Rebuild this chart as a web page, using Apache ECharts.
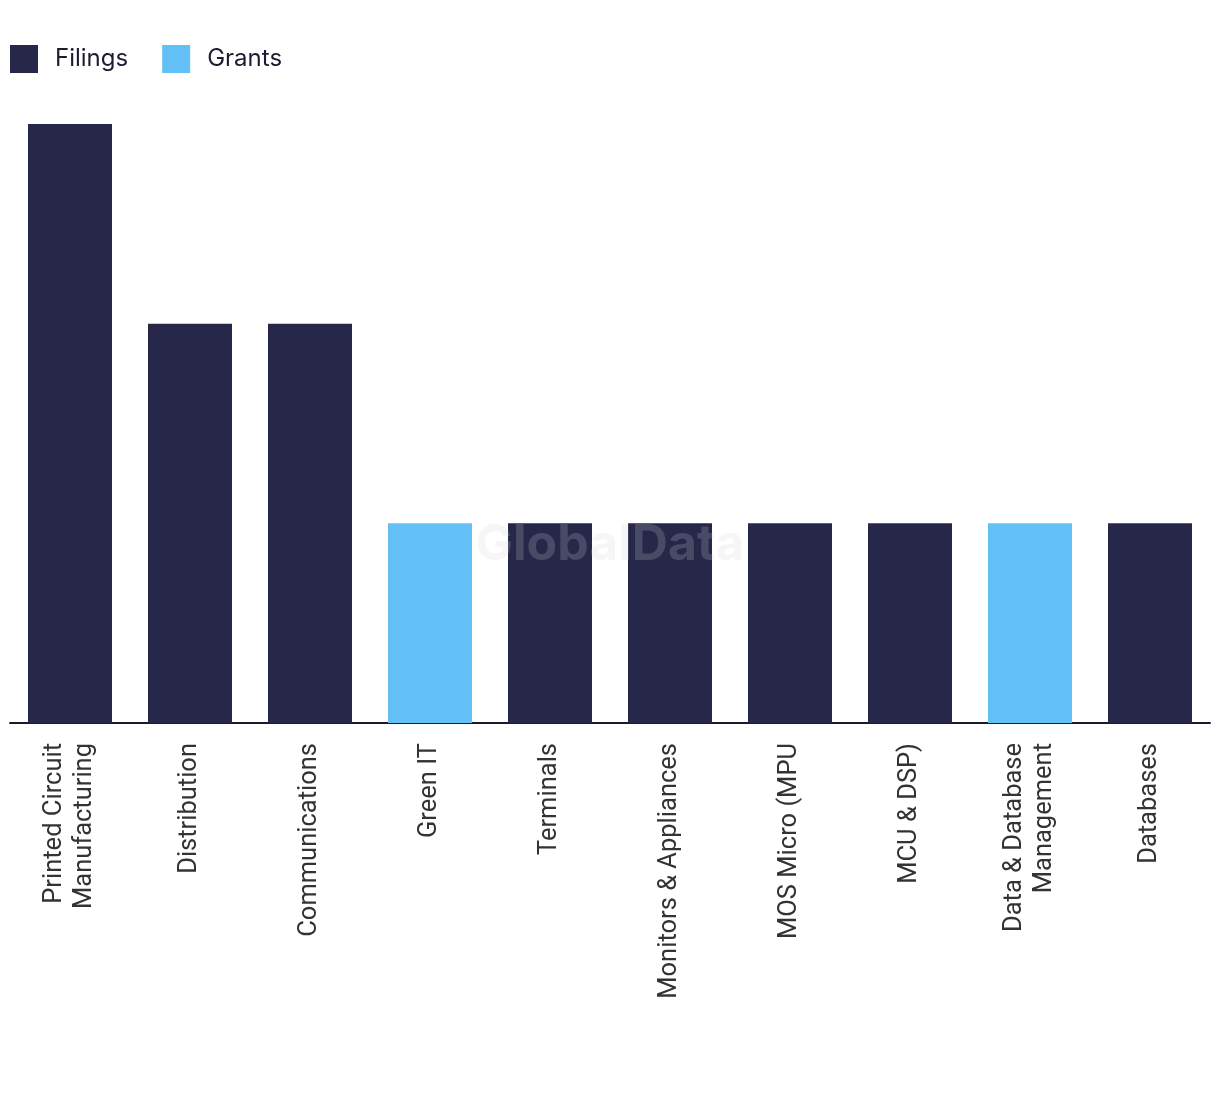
<!DOCTYPE html>
<html>
<head>
<meta charset="utf-8">
<script src="https://cdn.jsdelivr.net/npm/echarts@6/dist/echarts.min.js"></script>
<style>html,body{margin:0;padding:0;background:#fff}#c{width:1220px;height:1094px}</style>
</head>
<body>
<div id="c"></div>
<script>
const categories = ["Printed Circuit\nManufacturing", "Distribution", "Communications", "Green IT", "Terminals", "Monitors & Appliances", "MOS Micro (MPU", "MCU & DSP)", "Data & Database\nManagement", "Databases"];
const filings = [3, 2, 2, null, 1, 1, 1, 1, null, 1];
const grants = [null, null, null, 1, null, null, null, null, 1, null];
const seriesNames = ["Filings", "Grants"];

const chart = echarts.init(document.getElementById('c'));
chart.setOption({
  animation: false,
  color: ['#272849', '#62c0f7'],
  legend: {
    left: 5, top: 40, itemWidth: 28, itemHeight: 28, itemGap: 34,
    icon: 'rect',
    textStyle: { fontFamily: 'Inter', fontSize: 24, color: '#1c1c30', padding: [0, 0, 0, 12] },
    data: seriesNames
  },
  grid: { left: 10, right: 10, top: 124, bottom: 371, containLabel: false },
  xAxis: {
    type: 'category', data: categories,
    axisLine: { lineStyle: { color: '#1a1a2e', width: 2 } },
    axisTick: { show: false },
    axisLabel: { rotate: 90, margin: 20, interval: 0, fontFamily: 'Roboto', fontSize: 25.5, color: '#333333', lineHeight: 30, align: 'right', padding: [10, 0, 0, 0] }
  },
  yAxis: { type: 'value', min: 0, max: 3, show: false, splitLine: { show: false } },
  series: [
    { name: seriesNames[0], type: 'bar', stack: 'a', barWidth: 84, data: filings },
    { name: seriesNames[1], type: 'bar', stack: 'a', barWidth: 84, data: grants }
  ],
  graphic: [{
    type: 'text', left: 'center', top: 520, z: 100,
    style: { text: 'GlobalData', font: 'bold 50px Inter', fill: 'rgba(210,210,215,0.2)' }
  }]
});
</script>
</body>
</html>
